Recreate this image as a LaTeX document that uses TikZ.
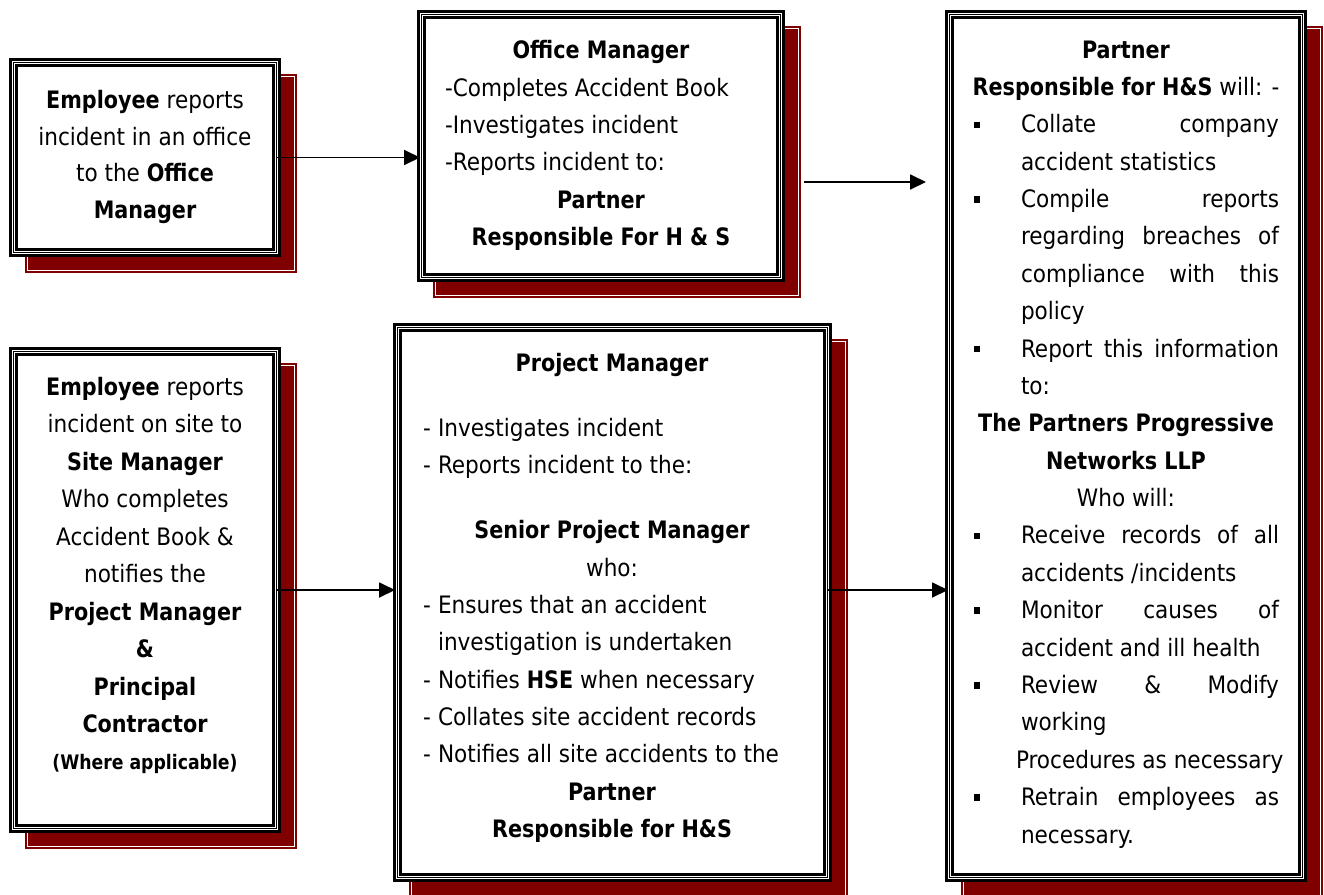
\documentclass[tikz,border=0pt]{standalone}
\usepackage{fontspec}
\IfFontExistsTF{DejaVu Sans Condensed}
  {\setmainfont{DejaVu Sans Condensed}[BoldFont={DejaVu Sans Condensed Bold},BoldFeatures={FakeStretch=0.96}]}
  {\setmainfont{DejaVu Sans}[FakeStretch=0.9,BoldFeatures={FakeStretch=0.86}]}
\usetikzlibrary{arrows.meta}
\definecolor{shadowred}{RGB}{128,0,0}
\tikzset{
  txt/.style={inner sep=0pt, outer sep=0pt, anchor=base, font=\fontsize{24}{29}\selectfont},
  lft/.style={txt, anchor=base west},
  smalltxt/.style={txt, font=\fontsize{20}{24}\selectfont\bfseries},
  bul/.style={fill=black, draw=none, minimum size=6.5pt, inner sep=0pt, outer sep=0pt},
  arr/.style={-{Triangle[length=16pt,width=15pt]}, line width=1.8pt},
  framebox/.style={fill=white, draw=none, inner sep=0pt, outer sep=0pt},
}
% name, x1, y1, x2, y2
\newcommand\hsbox[5]{%
  \fill[shadowred] (#2+16,#3+16) rectangle (#4+16,#5+16);
  \draw[white, line width=0.8pt] (#2+18.5,#3+18.5) rectangle (#4+13.5,#5+13.5);
  \node[framebox, minimum width={#4pt-#2pt}, minimum height={#5pt-#3pt}] (#1) at ({(#2+#4)/2},{(#3+#5)/2}) {};
  \draw[line width=2.7pt] ([shift={(1.35pt,-1.35pt)}]#1.north west) rectangle ([shift={(-1.35pt,1.35pt)}]#1.south east);
  \draw[line width=1pt] ([shift={(4.5pt,-4.5pt)}]#1.north west) rectangle ([shift={(-4.5pt,4.5pt)}]#1.south east);
  \draw[line width=2.6pt] ([shift={(7.7pt,-7.7pt)}]#1.north west) rectangle ([shift={(-7.7pt,7.7pt)}]#1.south east);
}
\newcommand\jl[1]{\makebox[258pt][s]{#1}}
\newcommand\dsh{\makebox[15pt][l]{-}}
\begin{document}
\begin{tikzpicture}[x=1pt,y=-1pt]
\useasboundingbox (0,0) rectangle (1324,894);
\clip (0,0) rectangle (1324,894);

\hsbox{A}{9}{58}{281}{257}
\hsbox{B}{417}{10}{785}{282}
\hsbox{C}{945}{10}{1307}{882}
\hsbox{D}{9}{347}{281}{833}
\hsbox{E}{393}{323}{832}{882}

% connectors
\coordinate (p1) at (804,182);
\coordinate (p2) at (926,182);
\draw[arr] ([xshift=-4pt]A.east) -- ([xshift=3pt]A.east -| B.west);
\draw[arr] (p1) -- (p2);
\draw[arr] ([xshift=-4pt]D.east) -- ([xshift=2pt]D.east -| E.west);
\draw[arr] ([xshift=-5pt]E.east |- D.east) -- ([xshift=3pt]D.east -| C.west);

% Box A
\node[txt] (a1) at (145,108) {\textbf{Employee} reports};
\node[txt] (a2) at (145,145) {incident in an office};
\node[txt] (a3) at (145,181) {to the \textbf{Office}};
\node[txt] (a4) at (145,218) {\textbf{Manager}};

% Box B
\node[txt] (b1) at (601,58) {\textbf{Office Manager}};
\node[lft] (b2) at (445,96) {-Completes Accident Book};
\node[lft] (b3) at (445,133) {-Investigates incident};
\node[lft] (b4) at (445,170) {-Reports incident to:};
\node[txt] (b5) at (601,208) {\textbf{Partner}};
\node[txt] (b6) at (601,245) {\textbf{Responsible For H \& S}};

% Box C
\node[txt] (c0) at (1126,58) {\textbf{Partner}};
\node[txt] (c1) at (1126,95.4) {\textbf{Responsible for H\&S} will: -};
\node[bul] (cb2) at (977,124.8) {};
\node[lft] (c2) at (1021,132.8) {\jl{Collate company}};
\node[lft] (c3) at (1021,170.1) {accident statistics};
\node[bul] (cb4) at (977,199.5) {};
\node[lft] (c4) at (1021,207.5) {\jl{Compile reports}};
\node[lft] (c5) at (1021,244.9) {\jl{regarding breaches of}};
\node[lft] (c6) at (1021,282.3) {\jl{compliance with this}};
\node[lft] (c7) at (1021,319.7) {policy};
\node[bul] (cb8) at (977,349) {};
\node[lft] (c8) at (1021,357.0) {\jl{Report this information}};
\node[lft] (c9) at (1021,394.4) {to:};
\node[txt] (c10) at (1126,431.8) {\textbf{The Partners Progressive}};
\node[txt] (c11) at (1126,469.2) {\textbf{Networks LLP}};
\node[txt] (c12) at (1126,506.6) {Who will:};
\node[bul] (cb13) at (977,535.9) {};
\node[lft] (c13) at (1021,543.9) {\jl{Receive records of all}};
\node[lft] (c14) at (1021,581.3) {accidents /incidents};
\node[bul] (cb15) at (977,610.7) {};
\node[lft] (c15) at (1021,618.7) {\jl{Monitor causes of}};
\node[lft] (c16) at (1021,656.1) {accident and ill health};
\node[bul] (cb17) at (977,685.5) {};
\node[lft] (c17) at (1021,693.5) {\jl{Review \& Modify}};
\node[lft] (c18) at (1021,730.8) {working};
\node[lft] (c19) at (1016,768.2) {Procedures as necessary};
\node[bul] (cb20) at (977,797.6) {};
\node[lft] (c20) at (1021,805.6) {\jl{Retrain employees as}};
\node[lft] (c21) at (1021,843.0) {necessary.};

% Box D
\node[txt] (d0) at (145,395) {\textbf{Employee} reports};
\node[txt] (d1) at (145,432.5) {incident on site to};
\node[txt] (d2) at (145,470) {\textbf{Site Manager}};
\node[txt] (d3) at (145,507.5) {Who completes};
\node[txt] (d4) at (145,545) {Accident Book \&};
\node[txt] (d5) at (145,582.5) {notifies the};
\node[txt] (d6) at (145,620) {\textbf{Project Manager}};
\node[txt] (d7) at (145,657.5) {\textbf{\&}};
\node[txt] (d8) at (145,695) {\textbf{Principal}};
\node[txt] (d9) at (145,732.5) {\textbf{Contractor}};
\node[smalltxt] (d10) at (145,769) {(Where applicable)};

% Box E
\node[txt] (e0) at (612,371) {\textbf{Project Manager}};
\node[lft] (e1) at (423,436) {\dsh Investigates incident};
\node[lft] (e2) at (423,473) {\dsh Reports incident to the:};
\node[txt] (e3) at (612,538) {\textbf{Senior Project Manager}};
\node[txt] (e4) at (612,576) {who:};
\node[lft] (e5) at (423,613) {\dsh Ensures that an accident};
\node[lft] (e6) at (438,650) {investigation is undertaken};
\node[lft] (e7) at (423,688) {\dsh Notifies \textbf{HSE} when necessary};
\node[lft] (e8) at (423,725) {\dsh Collates site accident records};
\node[lft] (e9) at (423,762) {\dsh Notifies all site accidents to the};
\node[txt] (e10) at (612,800) {\textbf{Partner}};
\node[txt] (e11) at (612,837) {\textbf{Responsible for H\&S}};
\end{tikzpicture}
\end{document}
